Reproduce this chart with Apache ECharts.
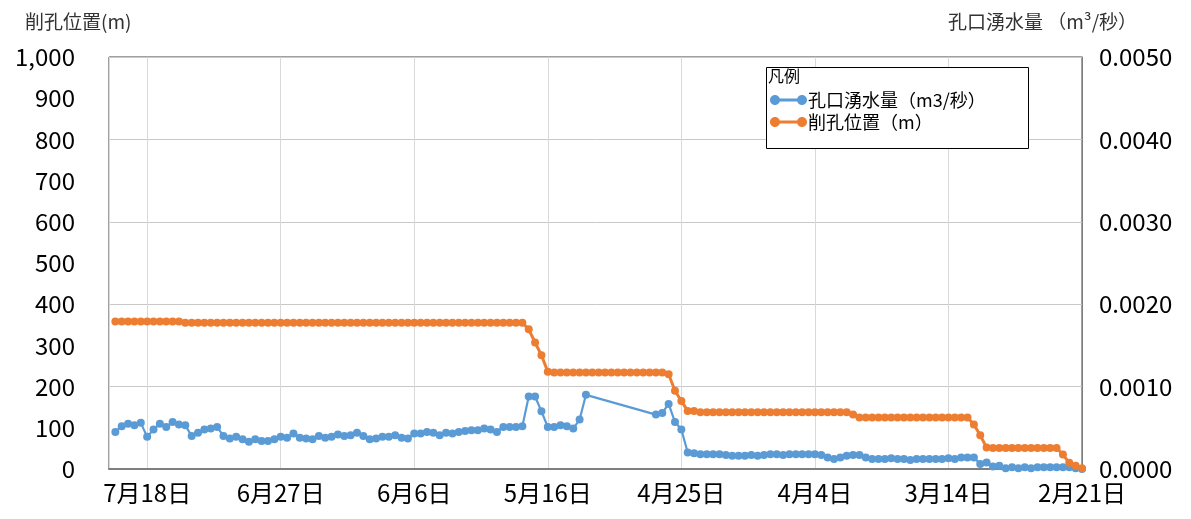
<!DOCTYPE html>
<html><head><meta charset="utf-8">
<script src="https://cdn.jsdelivr.net/npm/echarts@6/dist/echarts.min.js"></script>
<style>html,body{margin:0;padding:0;background:#fff}#c{width:1191px;height:519px}</style>
</head><body><div id="c"></div>
<script>
// x position = days before 2/21 (axis reversed: July on the left, February on the right)
const days = [152,151,150,149,148,147,146,145,144,143,142,141,140,139,138,137,136,135,134,133,132,131,130,129,128,127,126,125,124,123,122,121,120,119,118,117,116,115,114,113,112,111,110,109,108,107,106,105,104,103,102,101,100,99,98,97,96,95,94,93,92,91,90,89,88,87,86,85,84,83,82,81,80,79,78,77,76,75,74,73,72,71,70,69,68,67,66,65,64,63,62,61,60,59,58,57,56,55,54,53,52,51,50,49,48,47,46,45,44,43,42,41,40,39,38,37,36,35,34,33,32,31,30,29,28,27,26,25,24,23,22,21,20,19,18,17,16,15,14,13,12,11,10,9,8,7,6,5,4,3,2,1,0];

const flowName = '孔口湧水量（m3/秒）';
const depthName = '削孔位置（m）';

const flow = [
0.00045,0.00052,0.00055,0.00053,0.00056,0.00039,0.00048,0.00055,0.00051,0.00057,
0.00054,0.00053,0.0004,0.00044,0.00048,0.00049,0.00051,0.0004,0.00037,0.00039,
0.00036,0.00033,0.00036,0.00034,0.00034,0.00036,0.00039,0.00038,0.00043,0.00038,
0.00037,0.00036,0.0004,0.00038,0.00039,0.00042,0.0004,0.00041,0.00044,0.0004,
0.00036,0.00037,0.00039,0.00039,0.00041,0.00038,0.00037,0.00043,0.00043,0.00045,
0.00044,0.00041,0.00044,0.00043,0.00045,0.00046,0.00047,0.00047,0.00049,0.00048,
0.00045,0.00051,0.00051,0.00051,0.00052,0.00088,0.00088,0.0007,0.00051,0.00051,
0.00053,0.00052,0.00049,0.0006,0.0009,null,null,null,null,null,
null,null,null,null,null,0.00066,0.00068,0.00079,0.00057,0.00048,
0.0002,0.00019,0.00018,0.00018,0.00018,0.00018,0.00017,0.00016,0.00016,0.00016,
0.00017,0.00016,0.00017,0.00018,0.00018,0.00017,0.00018,0.00018,0.00018,0.00018,
0.00018,0.00017,0.00014,0.00012,0.00014,0.00016,0.00017,0.00017,0.00014,0.00012,
0.00012,0.00012,0.00013,0.00012,0.00012,0.00011,0.00012,0.00012,0.00012,0.00012,
0.00012,0.00013,0.00012,0.00014,0.00014,0.00014,0.00006,0.00008,0.00003,0.00004,
0.00001,0.00002,0.00001,0.00002,0.00001,0.00002,0.00002,0.00002,0.00002,0.00002,
0.00002,0.00001,0];

const depth = [
358,358,358,358,358,358,358,358,358,358,
358,355,355,355,355,355,355,355,355,355,
355,355,355,355,355,355,355,355,355,355,
355,355,355,355,355,355,355,355,355,355,
355,355,355,355,355,355,355,355,355,355,
355,355,355,355,355,355,355,355,355,355,
355,355,355,355,355,339,307,276,236,234,
234,234,234,234,234,234,234,234,234,234,
234,234,234,234,234,234,234,230,190,165,
141,141,138,138,138,138,138,138,138,138,
138,138,138,138,138,138,138,138,138,138,
138,138,138,138,138,138,132,125,125,125,
125,125,125,125,125,125,125,125,125,125,
125,125,125,125,125,108,82,52,51,51,
51,51,51,51,51,51,51,51,51,35,
15,8,2];

// tick labels every 21 days, starting from 2/21
const xTickLabels = ['2月21日','3月14日','4月4日','4月25日','5月16日','6月6日','6月27日','7月18日'];

const leftTitle = '削孔位置(m)';
const rightTitle = '孔口湧水量 （m³/秒）';
const legendTitle = '凡例';

const FONT = "'Noto Sans CJK JP', 'Noto Sans', sans-serif";
const chart = echarts.init(document.getElementById('c'), null, {renderer: 'canvas'});

// two filled dots joined by a bar (all sub-paths clockwise)
const iconPath = 'path://M0,5C0,2.24 2.24,0 5,0C7.76,0 10,2.24 10,5C10,7.76 7.76,10 5,10C2.24,10 0,7.76 0,5Z' +
  'M27,5C27,2.24 29.24,0 32,0C34.76,0 37,2.24 37,5C37,7.76 34.76,10 32,10C29.24,10 27,7.76 27,5Z' +
  'M9,3.6L28,3.6L28,6.4L9,6.4Z';

const BLUE = '#5b9bd5', ORANGE = '#ed7d31';

chart.setOption({
  animation: false,
  backgroundColor: '#fff',
  textStyle: {fontFamily: FONT},
  grid: {left: 109, right: 109, top: 57, bottom: 50, containLabel: false, outerBoundsMode: 'none',
         show: true, borderColor: '#404040', borderWidth: 1},
  legend: {
    left: 770, top: 90, orient: 'vertical',
    padding: [0, 0, 0, 0], itemGap: 2, itemWidth: 37, itemHeight: 10,
    icon: iconPath,
    textStyle: {fontFamily: FONT, fontSize: 18, color: '#000', lineHeight: 20, padding: [0, 0, 0, -4]},
    data: [
      {name: flowName, itemStyle: {color: BLUE, borderWidth: 0}},
      {name: depthName, itemStyle: {color: ORANGE, borderWidth: 0}}
    ]
  },
  graphic: [
    {type: 'text', left: 25, top: 12, style: {text: leftTitle, font: "19px 'Noto Sans CJK JP'", fill: '#333'}},
    {type: 'text', left: 948, top: 12, style: {text: rightTitle, font: "19px 'Noto Sans CJK JP'", fill: '#333'}},
    {type: 'rect', z: 3, shape: {x: 766.5, y: 67.5, width: 262, height: 81},
     style: {fill: '#fff', stroke: '#000', lineWidth: 1}},
    {type: 'text', left: 768, top: 68, z: 5, style: {text: legendTitle, font: "16px 'Noto Sans CJK JP'", fill: '#000'}}
  ],
  xAxis: {
    type: 'value', min: 0, max: 153, interval: 21, inverse: true,
    axisLine: {show: true, lineStyle: {color: '#7f7f7f', width: 2}},
    axisTick: {show: false},
    splitLine: {show: true, lineStyle: {color: '#d9d9d9', width: 1}},
    axisLabel: {
      fontSize: 24, color: '#000', margin: 12, showMaxLabel: false,
      formatter: v => (v % 21 === 0 ? xTickLabels[v / 21] : '')
    }
  },
  yAxis: [
    {
      type: 'value', min: 0, max: 1000, interval: 100,
      axisLine: {show: true, lineStyle: {color: '#7f7f7f', width: 1}},
      axisTick: {show: false}, splitLine: {show: false},
      axisLabel: {fontSize: 24, color: '#000', margin: 34,
        formatter: v => v.toLocaleString('en-US')}
    },
    {
      type: 'value', min: 0, max: 0.005, interval: 0.001, position: 'right',
      axisLine: {show: false}, axisTick: {show: false},
      splitLine: {show: true, lineStyle: {color: '#c8c8c8', width: 1}},
      axisLabel: {fontSize: 24, color: '#000', margin: 17,
        formatter: v => v.toFixed(4)}
    }
  ],
  series: [
    {
      name: flowName, type: 'line', yAxisIndex: 1, connectNulls: true,
      symbol: 'circle', symbolSize: 8,
      itemStyle: {color: BLUE}, lineStyle: {color: BLUE, width: 2.2},
      data: days.map((d, i) => [d, flow[i]])
    },
    {
      name: depthName, type: 'line', yAxisIndex: 0,
      symbol: 'circle', symbolSize: 8,
      itemStyle: {color: ORANGE}, lineStyle: {color: ORANGE, width: 3},
      data: days.map((d, i) => [d, depth[i]])
    }
  ]
});
</script></body></html>
